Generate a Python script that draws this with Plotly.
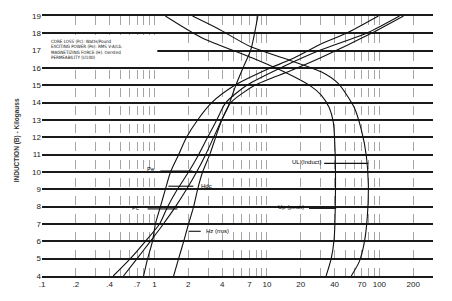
import numpy as np
import plotly.graph_objects as go

# ---- data (x = curve value, b = induction in kilogauss) ----
pe_b = [4, 5, 6, 7, 8, 9, 10, 11, 12, 13, 14, 15, 16.1, 17.05, 18, 19]
pe_x = [0.43, 0.61, 0.83, 1.11, 1.31, 1.60, 2.01, 2.47, 2.97, 3.58, 4.31, 6.63, 14.2, 30.4, 76.6, 151]

pc_b = [4, 5, 6, 7, 8, 9, 10, 11, 12, 13, 14, 15, 15.85, 16.6, 18, 19]
pc_x = [0.53, 0.70, 0.92, 1.20, 1.54, 1.93, 2.37, 2.85, 3.36, 3.96, 4.77, 7.8, 16.4, 30.4, 84.8, 164]

hdc_b = [4, 5, 6, 7, 8, 9, 10, 11, 12, 13, 14, 15, 15.94, 16.5, 17.44, 18, 19]
hdc_x = [0.80, 0.87, 0.96, 1.02, 1.13, 1.25, 1.39, 1.64, 1.93, 2.42, 3.23, 5.18, 10.2, 16.4, 31.6, 50.8, 98]

hz_b = [4, 5, 6, 7, 8, 9, 10, 11, 12, 13, 13.72, 15, 16.11, 17.06, 19]
hz_x = [1.48, 1.64, 1.82, 2.01, 2.23, 2.42, 2.68, 3.10, 3.50, 3.97, 4.49, 5.29, 6.23, 7.20, 8.31]

up_b = [19, 17.78, 16.61, 15.78, 14.94, 14.44, 13.72, 12.89, 10.94, 7.78, 6.11, 5.0, 4]
up_x = [1.25, 2.58, 7.20, 14.2, 24.7, 30.4, 35.8, 38.9, 40.5, 40.5, 39.6, 37.3, 33.6]

ul_b = [19, 18.28, 17.22, 16.56, 15.78, 15.11, 13.72, 12.44, 10.94, 9.28, 7.44, 5.94, 4.83, 4]
ul_x = [2.18, 3.65, 7.20, 14.2, 30.4, 43.0, 59.8, 69.1, 76.6, 79.8, 78.2, 73.5, 66.3, 56.2]

# curve labels with leader lines
label_text = ["Pe", "Hdc", "Pc", "Hz (rms)", "UL (Induct)", "Up (peak)"]
leader_b = [10.05, 9.18, 7.87, 6.58, 10.5, 7.9]
text_b = [10.2, 9.18, 7.9, 6.58, 10.6, 8.0]
leader_x0 = [1.13, 1.33, 0.87, 2.01, 32.3, 23.7]
leader_x1 = [2.18, 2.22, 1.60, 2.58, 79.8, 41.3]
label_x = [1.06, 2.47, 0.765, 2.75, 31.6, 22.4]
label_anchor = ["right", "left", "right", "left", "right", "right"]

# axis ticks
x_grid_vals = [m * 10 ** k for k in (-1, 0, 1) for m in range(1, 10)] + [100, 200, 300]
x_label_map = {0.1: ".1", 0.2: ".2", 0.4: ".4", 0.7: ".7", 1: "1", 2: "2", 4: "4", 7: "7",
               10: "10", 20: "20", 40: "40", 70: "70", 100: "100", 200: "200"}
x_tick_text = [x_label_map.get(round(v, 6), "") for v in x_grid_vals]
y_tick_vals = list(range(4, 20))

legend_lines = ["CORE LOSS (Pc): Watts/Pound",
                "EXCITING POWER (Pe): RMS V-A/Lb.",
                "MAGNETIZING FORCE (H): Oersted",
                "PERMEABILITY (U100)"]

fig = go.Figure()
for xs, bs in [(pe_x, pe_b), (pc_x, pc_b), (hdc_x, hdc_b), (hz_x, hz_b), (up_x, up_b), (ul_x, ul_b)]:
    fig.add_trace(go.Scatter(x=xs, y=bs, mode="lines",
                             line=dict(color="#111111", width=1.1, shape="spline", smoothing=0.7),
                             showlegend=False, hoverinfo="skip"))

for t, lb, tb, x0, x1, tx, anc in zip(label_text, leader_b, text_b, leader_x0, leader_x1,
                                      label_x, label_anchor):
    fig.add_trace(go.Scatter(x=[x0, x1], y=[lb, lb], mode="lines",
                             line=dict(color="#111111", width=1.1),
                             showlegend=False, hoverinfo="skip"))
    fig.add_annotation(x=np.log10(tx), y=tb, xref="x", yref="y", text=t, showarrow=False,
                       xanchor=anc, yanchor="middle",
                       font=dict(family="Liberation Sans, Arial, sans-serif", size=6, color="#000"))

# white box behind legend text
fig.add_shape(type="rect", xref="x", yref="y", x0=0.1, x1=1.06, y0=16.22, y1=17.9,
              fillcolor="white", line=dict(width=0), layer="above")
for i, line in enumerate(legend_lines):
    fig.add_annotation(xref="paper", yref="paper", x=(49 - 42) / 391, y=(285 - (39.5 + 5.7 * i)) / 272,
                       text=line, showarrow=False, xanchor="left", yanchor="middle",
                       font=dict(family="Liberation Sans Narrow, DejaVu Sans Condensed, sans-serif",
                                 size=4.5, color="#111"))

fig.add_annotation(xref="paper", yref="paper", x=(17 - 42) / 391, y=(285 - 143) / 272,
                   text="<b>INDUCTION (B) - Kilogauss</b>", textangle=-90, showarrow=False,
                   xanchor="center", yanchor="middle",
                   font=dict(family="Liberation Sans, Arial, sans-serif", size=6.5, color="#333"))

fig.update_layout(
    width=452, height=301, autosize=False,
    margin=dict(l=42, r=19, t=13, b=16),
    paper_bgcolor="white", plot_bgcolor="white",
    xaxis=dict(type="log", range=[-1, np.log10(300)], tickmode="array",
               tickvals=x_grid_vals, ticktext=x_tick_text, showgrid=True,
               gridcolor="#a5a5a5", griddash="dash", gridwidth=1, zeroline=False,
               showline=True, mirror=True, linecolor="#1a1a1a", linewidth=1.5, ticks="",
               tickfont=dict(family="Liberation Sans, Arial, sans-serif", size=8, color="#222")),
    yaxis=dict(range=[4, 19], tickmode="array", tickvals=y_tick_vals, showgrid=True,
               gridcolor="#1a1a1a", gridwidth=1.5, zeroline=False, showline=False, ticks="",
               tickfont=dict(family="Liberation Sans, Arial, sans-serif", size=8, color="#222")),
)

fig.write_html("out.html")
